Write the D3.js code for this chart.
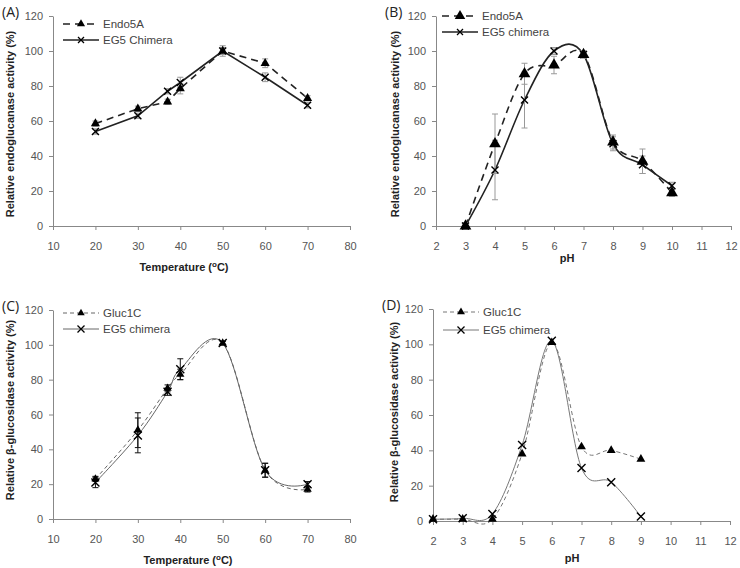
<!DOCTYPE html>
<html>
<head>
<meta charset="utf-8">
<script src="https://cdn.jsdelivr.net/npm/d3@7"></script>
<style>
  body { margin: 0; background: #fff; }
  svg { display: block; }
  .tick text { font-family: "Liberation Sans", Arial, sans-serif; font-size: 11px; fill: #555; }
  .ttl { font-family: "Liberation Sans", Arial, sans-serif; font-size: 11px; font-weight: bold; fill: #222; }
  .leg { font-family: "Liberation Sans", Arial, sans-serif; font-size: 11.5px; fill: #444; }
  .plab { font-family: "Open Sans", "Noto Sans", sans-serif; font-size: 14px; fill: #222; }
</style>
</head>
<body>
<svg id="chart" width="740" height="568"></svg>
<script>
// x values
const tempX = [20, 30, 37, 40, 50, 60, 70]
const phXB = [3, 4, 5, 6, 7, 8, 9, 10]
const phXD = [2, 3, 4, 5, 6, 7, 8, 9]
const yTicks = [0, 20, 40, 60, 80, 100, 120]

// (A) endoglucanase vs temperature
const endoTemp = [58.5, 67, 71, 78.5, 100, 93, 73]
const endoTempErr = [1.5, 1.5, 1.5, 3, 2, 2.5, 1.5]
const chimTempA = [54, 63, 77, 82, 100, 85, 69]
const chimTempAErr = [1.5, 1.5, 1.5, 3, 3, 2.5, 1.5]

// (B) endoglucanase vs pH
const endoPh = [0, 47, 87, 92, 98, 48, 37, 19]
const endoPhErr = [2, 17, 6, 5, 2, 4, 7, 2]
const chimPhB = [0, 32, 72, 100, 98, 47, 35, 23]
const chimPhBErr = [2, 17, 16, 2, 2, 4, 5, 2]

// (C) beta-glucosidase vs temperature
const glucTemp = [23, 51, 75, 83, 101, 28, 17]
const glucTempErr = [1.5, 10, 2, 3, 1, 4, 1.5]
const chimTempC = [21, 48, 73, 86, 101, 28, 20]
const chimTempCErr = [3, 10, 2, 6, 1, 4, 1.5]

// (D) beta-glucosidase vs pH
const glucPh = [1, 1, 1, 38, 101, 42, 40, 35]
const chimPhD = [1, 1.5, 4, 43, 102, 30, 22, 2.5]

const svg = d3.select("#chart")

const panels = [
  {
    label: "(A)", left: 53, right: 350, top: 16, bottom: 226,
    xdom: [10, 80], xticks: d3.range(10, 81, 10),
    ytitle: "Relative endoglucanase activity (%)", ytx: 11, yty: 124,
    xtitle: "temp", xtx: 184, xty: 271,
    curve: d3.curveLinear, lineColor: "#222", lineW: 1.6, errColor: "#999",
    triSize: 36, xr: 3.5,
    legend: ["Endo5A", "EG5 Chimera"], legX: 63, legY: [24, 40],
    series: [
      { x: tempX, y: endoTemp, err: endoTempErr, dash: "7,5", mark: "tri" },
      { x: tempX, y: chimTempA, err: chimTempAErr, dash: null, mark: "x" }
    ]
  },
  {
    label: "(B)", left: 436, right: 731, top: 16, bottom: 226,
    xdom: [2, 12], xticks: d3.range(2, 13),
    ytitle: "Relative  endoglucanase  activity (%)", ytx: 396, yty: 124,
    xtitle: "pH", xtx: 567, xty: 262,
    curve: d3.curveCatmullRom.alpha(0), lineColor: "#222", lineW: 1.6, errColor: "#999",
    triSize: 60, xr: 3.5,
    legend: ["Endo5A", "EG5 chimera"], legX: 442, legY: [16, 32],
    series: [
      { x: phXB, y: endoPh, err: endoPhErr, dash: "7,5", mark: "tri" },
      { x: phXB, y: chimPhB, err: chimPhBErr, dash: null, mark: "x" }
    ]
  },
  {
    label: "(C)", left: 53, right: 350, top: 310, bottom: 519,
    xdom: [10, 80], xticks: d3.range(10, 81, 10),
    ytitle: "Relative β-glucosidase activity (%)", ytx: 11, yty: 410,
    xtitle: "temp", xtx: 188, xty: 564,
    curve: d3.curveCatmullRom.alpha(0), lineColor: "#666", lineW: 1, errColor: "#111",
    triSize: 30, xr: 4,
    legend: ["Gluc1C", "EG5 chimera"], legX: 63, legY: [313, 329],
    series: [
      { x: tempX, y: glucTemp, err: glucTempErr, dash: "4,3", mark: "tri" },
      { x: tempX, y: chimTempC, err: chimTempCErr, dash: null, mark: "x" }
    ]
  },
  {
    label: "(D)", left: 433, right: 730, top: 309, bottom: 521,
    xdom: [2, 12], xticks: d3.range(2, 13),
    ytitle: "Relative  β-glucosidase activity (%)", ytx: 395, yty: 412,
    xtitle: "pH", xtx: 572, xty: 562,
    curve: d3.curveCatmullRom.alpha(0), lineColor: "#777", lineW: 1, errColor: "#111",
    triSize: 34, xr: 4,
    legend: ["Gluc1C", "EG5 chimera"], legX: 443, legY: [312, 330],
    series: [
      { x: phXD, y: glucPh, err: null, dash: "4,3", mark: "tri" },
      { x: phXD, y: chimPhD, err: null, dash: null, mark: "x" }
    ]
  }
]

function xPath(r) {
  return `M${-r},${-r}L${r},${r}M${-r},${r}L${r},${-r}`
}

panels.forEach(p => {
  const g = svg.append("g")
  const x = d3.scaleLinear().domain(p.xdom).range([p.left, p.right])
  const y = d3.scaleLinear().domain([0, 120]).range([p.bottom, p.top])

  // axes
  const xa = g.append("g")
    .attr("transform", `translate(0,${p.bottom})`)
    .call(d3.axisBottom(x).tickValues(p.xticks).tickSize(4).tickPadding(12).tickSizeOuter(0))
  const ya = g.append("g")
    .attr("transform", `translate(${p.left},0)`)
    .call(d3.axisLeft(y).tickValues(yTicks).tickSize(4).tickPadding(6).tickSizeOuter(0))
  ;[xa, ya].forEach(a => {
    a.select(".domain").attr("stroke", "#888")
    a.selectAll(".tick line").attr("stroke", "#888")
  })

  // titles
  g.append("text").attr("class", "plab").attr("x", p.left - 51).attr("y", p.top + 1).text(p.label)
  g.append("text").attr("class", "ttl")
    .attr("transform", `translate(${p.ytx},${p.yty}) rotate(-90)`)
    .attr("text-anchor", "middle").attr("dominant-baseline", "middle")
    .text(p.ytitle)
  const xt = g.append("text").attr("class", "ttl")
    .attr("x", p.xtx).attr("y", p.xty).attr("text-anchor", "middle")
  if (p.xtitle === "temp") {
    xt.append("tspan").text("Temperature (")
    xt.append("tspan").attr("font-size", "8px").attr("dy", -4).text("o")
    xt.append("tspan").attr("dy", 4).text("C)")
  } else {
    xt.text(p.xtitle)
  }

  // lines
  p.series.forEach(s => {
    const pts = s.x.map((v, i) => [v, s.y[i]])
    g.append("path")
      .datum(pts)
      .attr("fill", "none")
      .attr("stroke", p.lineColor)
      .attr("stroke-width", p.lineW)
      .attr("stroke-dasharray", s.dash)
      .attr("d", d3.line().x(d => x(d[0])).y(d => y(d[1])).curve(p.curve))
  })

  // error bars
  p.series.forEach(s => {
    if (!s.err) return
    const eb = g.append("g").attr("stroke", p.errColor).attr("stroke-width", 1)
    s.x.forEach((v, i) => {
      const cx = x(v), lo = y(s.y[i] - s.err[i]), hi = y(s.y[i] + s.err[i])
      eb.append("line").attr("x1", cx).attr("x2", cx).attr("y1", lo).attr("y2", hi)
      eb.append("line").attr("x1", cx - 3).attr("x2", cx + 3).attr("y1", lo).attr("y2", lo)
      eb.append("line").attr("x1", cx - 3).attr("x2", cx + 3).attr("y1", hi).attr("y2", hi)
    })
  })

  // markers
  p.series.forEach(s => {
    const pts = s.x.map((v, i) => [v, s.y[i]])
    if (s.mark === "tri") {
      g.selectAll(null).data(pts).join("path")
        .attr("transform", d => `translate(${x(d[0])},${y(d[1])})`)
        .attr("d", d3.symbol(d3.symbolTriangle, p.triSize))
        .attr("fill", "#000")
    } else {
      g.selectAll(null).data(pts).join("path")
        .attr("transform", d => `translate(${x(d[0])},${y(d[1])})`)
        .attr("d", xPath(p.xr))
        .attr("stroke", "#000").attr("stroke-width", 1.4).attr("fill", "none")
    }
  })

  // legend
  p.series.forEach((s, i) => {
    const ly = p.legY[i]
    const lg = g.append("g")
    lg.append("line")
      .attr("x1", p.legX).attr("x2", p.legX + 36).attr("y1", ly).attr("y2", ly)
      .attr("stroke", p.lineColor).attr("stroke-width", p.lineW)
      .attr("stroke-dasharray", s.dash)
    if (s.mark === "tri") {
      lg.append("path").attr("transform", `translate(${p.legX + 18},${ly})`)
        .attr("d", d3.symbol(d3.symbolTriangle, p.triSize * 0.8)).attr("fill", "#000")
    } else {
      lg.append("path").attr("transform", `translate(${p.legX + 18},${ly})`)
        .attr("d", xPath(p.xr - 0.5)).attr("stroke", "#000").attr("stroke-width", 1.3)
    }
    lg.append("text").attr("class", "leg")
      .attr("x", p.legX + 40).attr("y", ly).attr("dy", "0.35em")
      .text(p.legend[i])
  })
})
</script>
</body>
</html>
